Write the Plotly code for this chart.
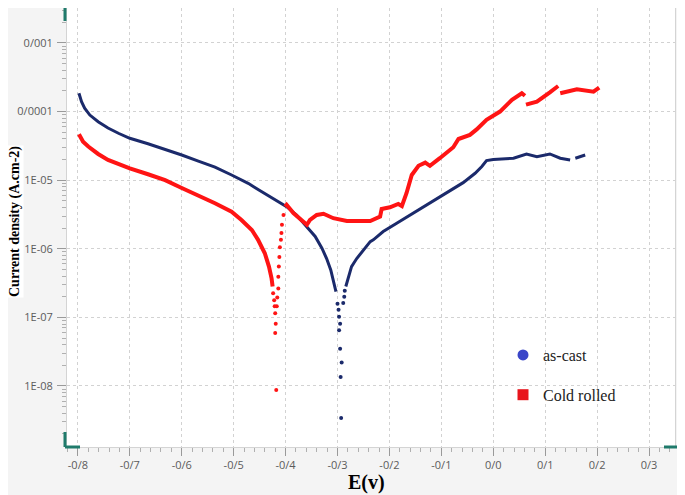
import plotly.graph_objects as go

# as-cast : continuous parts of the curve (None = gap in the record)
ascast_e = [-0.798, -0.793, -0.787, -0.777, -0.761, -0.742, -0.722, -0.700, -0.665, -0.632,
            -0.600, -0.568, -0.536, -0.504, -0.472, -0.449, -0.424, -0.398, -0.379, -0.359,
            -0.343, -0.330, -0.321, -0.313, -0.307, -0.303, None,
            -0.284, -0.279, -0.273, -0.263, -0.253, -0.237, -0.231, -0.212, -0.186, -0.154,
            -0.122, -0.090, -0.058, -0.035, -0.022, -0.013, 0.000, 0.039, 0.064, 0.084,
            0.109, 0.129, 0.148, None, 0.158, 0.177]
ascast_i = [1.85e-4, 1.39e-4, 1.12e-4, 8.9e-5, 7.1e-5, 5.75e-5, 4.83e-5, 4.08e-5, 3.4e-5, 2.82e-5,
            2.33e-5, 1.9e-5, 1.55e-5, 1.19e-5, 9.0e-6, 7.0e-6, 5.45e-6, 4.11e-6, 3.11e-6, 2.10e-6,
            1.51e-6, 1.02e-6, 7.2e-7, 4.9e-7, 3.3e-7, 2.37e-7, None,
            2.82e-7, 3.9e-7, 5.5e-7, 7.2e-7, 9.1e-7, 1.27e-6, 1.35e-6, 1.78e-6, 2.36e-6, 3.3e-6,
            4.6e-6, 6.6e-6, 9.2e-6, 1.26e-5, 1.58e-5, 1.93e-5, 2.0e-5, 2.09e-5, 2.4e-5, 2.2e-5,
            2.41e-5, 2.09e-5, 1.97e-5, None, 2.09e-5, 2.33e-5]
# as-cast : isolated points around Ecorr
ascast_dot_e = [-0.300, -0.298, -0.297, -0.295, -0.297, -0.295, -0.292, -0.294, -0.293,
                -0.289, -0.287, -0.286]
ascast_dot_i = [1.58e-7, 1.29e-7, 1.02e-7, 8.1e-8, 6.5e-8, 3.5e-8, 2.2e-8, 1.35e-8, 3.4e-9,
                1.62e-7, 2.0e-7, 2.45e-7]

# cold rolled : continuous parts
rolled_e = [-0.798, -0.790, -0.780, -0.761, -0.742, -0.722, -0.700, -0.665, -0.632, -0.600,
            -0.568, -0.536, -0.504, -0.485, -0.465, -0.453, -0.440, -0.432, -0.427, -0.425, None,
            -0.401, -0.398, -0.385, -0.372, -0.359, -0.353, -0.340, -0.327, -0.308, -0.282,
            -0.257, -0.237, -0.218, -0.215, -0.199, -0.183, -0.176, -0.167, -0.157, -0.144,
            -0.131, -0.122, -0.103, -0.090, -0.077, -0.067, -0.045, -0.032, -0.013, 0.013,
            0.036, 0.055, 0.061, None, 0.063, 0.084, 0.109, 0.125, None, 0.129, 0.161, 0.193, 0.204]
rolled_i = [4.68e-5, 3.63e-5, 3.09e-5, 2.41e-5, 1.97e-5, 1.72e-5, 1.49e-5, 1.22e-5, 1.0e-5, 7.7e-6,
            6.0e-6, 4.6e-6, 3.47e-6, 2.63e-6, 1.88e-6, 1.35e-6, 8.6e-7, 5.5e-7, 3.7e-7, 2.82e-7, None,
            4.11e-6, 4.37e-6, 3.31e-6, 2.69e-6, 2.24e-6, 2.63e-6, 3.11e-6, 3.24e-6, 2.79e-6, 2.54e-6,
            2.57e-6, 2.54e-6, 2.95e-6, 3.8e-6, 4.03e-6, 4.5e-6, 4.2e-6, 6.5e-6, 1.19e-5, 1.62e-5,
            1.8e-5, 1.62e-5, 2.09e-5, 2.51e-5, 3.02e-5, 3.98e-5, 4.57e-5, 5.5e-5, 7.6e-5, 1.0e-4,
            1.48e-4, 1.85e-4, 1.70e-4, None, 1.26e-4, 1.40e-4, 1.91e-4, 2.36e-4, None, 1.85e-4, 2.11e-4, 1.95e-4, 2.24e-4]
# cold rolled : isolated points around Ecorr
rolled_dot_e = [-0.424, -0.422, -0.421, -0.420, -0.419, -0.420, -0.418,
                -0.417, -0.416, -0.414, -0.414, -0.413, -0.412, -0.411, -0.409, -0.408, -0.407, -0.404]
rolled_dot_i = [2.24e-7, 1.78e-7, 1.45e-7, 1.15e-7, 8.1e-8, 5.9e-8, 8.7e-9,
                1.45e-7, 1.95e-7, 2.63e-7, 3.9e-7, 5.5e-7, 7.6e-7, 1.05e-6, 1.35e-6, 1.7e-6, 2.24e-6, 3.1e-6]

x_ticks = [-0.8, -0.7, -0.6, -0.5, -0.4, -0.3, -0.2, -0.1, 0.0, 0.1, 0.2, 0.3]
x_labels = ['-0/8', '-0/7', '-0/6', '-0/5', '-0/4', '-0/3', '-0/2', '-0/1', '0/0', '0/1', '0/2', '0/3']
y_ticks = [1e-8, 1e-7, 1e-6, 1e-5, 1e-4, 1e-3]
y_labels = ['1E-08', '1E-07', '1E-06', '1E-05', '0/0001', '0/001']

# page body has an 8px margin, so the figure is drawn 8px in from the window corner
OFF = 8
W, H = 685 - OFF, 495 - OFF
PL, PR, PT, PB = 67, 675, 8, 447          # wanted plot box, window pixels
ML, MR, MT, MB = PL - OFF, 685 - PR, PT - OFF, 495 - PB
NAVY = '#1b2a6b'
RED = '#ff1414'
TEAL = '#1f7a6b'
GRID = '#d2d2d2'


def px(x):
    return (x - PL) / (PR - PL)


def py(y):
    return (PB - y) / (PB - PT)


fig = go.Figure()

fig.add_trace(go.Scatter(x=ascast_e, y=ascast_i, mode='lines',
                         line=dict(color=NAVY, width=3), showlegend=False))
fig.add_trace(go.Scatter(x=ascast_dot_e, y=ascast_dot_i, mode='markers',
                         marker=dict(color=NAVY, size=4), showlegend=False))
fig.add_trace(go.Scatter(x=rolled_e, y=rolled_i, mode='lines',
                         line=dict(color=RED, width=4), showlegend=False))
fig.add_trace(go.Scatter(x=rolled_dot_e, y=rolled_dot_i, mode='markers',
                         marker=dict(color=RED, size=4), showlegend=False))

# legend-only entries
fig.add_trace(go.Scatter(x=[None], y=[None], mode='markers', name='as-cast', legendgroup='a',
                         marker=dict(color='#3a46c8', size=11, symbol='circle')))
fig.add_trace(go.Scatter(x=[None], y=[None], mode='markers', name='Cold rolled', legendgroup='b',
                         marker=dict(color='#e8141c', size=11, symbol='square')))

fig.update_xaxes(
    range=[-0.821, 0.35],
    tickmode='array', tickvals=x_ticks, ticktext=x_labels,
    ticks='outside', ticklen=8, tickcolor='#9a9a9a',
    tickfont=dict(family='Open Sans', size=11, color='#5b5b5b'),
    minor=dict(dtick=0.02, ticks='outside', ticklen=4, tickcolor='#b0b0b0', showgrid=False),
    showline=True, linecolor='#d4d4d4', mirror=True,
    showgrid=True, gridcolor=GRID, griddash='dot', gridwidth=1,
    zeroline=False, automargin=False,
)
fig.update_yaxes(
    type='log', range=[-8.89, -2.49],
    tickmode='array', tickvals=y_ticks, ticktext=y_labels,
    ticks='outside', ticklen=9, tickcolor='#9a9a9a', ticklabelstandoff=2,
    tickfont=dict(family='Open Sans', size=11, color='#5b5b5b'),
    minor=dict(dtick='D1', ticks='outside', ticklen=4, tickcolor='#b0b0b0', showgrid=False),
    showline=True, linecolor='#d4d4d4', mirror=True,
    showgrid=True, gridcolor=GRID, griddash='dot', gridwidth=1,
    zeroline=False, automargin=False,
)

teal = dict(color=TEAL, width=3)
shapes = [
    dict(type='line', xref='paper', yref='paper', x0=px(65), x1=px(65), y0=py(8), y1=py(21), line=teal),
    dict(type='line', xref='paper', yref='paper', x0=px(65), x1=px(65), y0=py(432), y1=py(447), line=teal),
    dict(type='line', xref='paper', yref='paper', x0=px(65), x1=px(80), y0=py(447), y1=py(447), line=teal),
    dict(type='line', xref='paper', yref='paper', x0=px(664), x1=px(677), y0=py(447), y1=py(447), line=teal),
]

fig.update_layout(
    width=W, height=H,
    margin=dict(l=ML, r=MR, t=MT, b=MB, pad=0),
    paper_bgcolor='#f4f4f4', plot_bgcolor='white',
    shapes=shapes,
    legend=dict(x=px(503), y=py(338), xanchor='left', yanchor='top',
                bgcolor='rgba(0,0,0,0)', tracegroupgap=16,
                font=dict(family='Liberation Serif', size=16, color='#222222')),
    annotations=[
        dict(text='<b>Current density (A.cm-2)</b>', xref='paper', yref='paper',
             x=px(15), y=py(222), xanchor='center', yanchor='middle',
             textangle=-90, showarrow=False, bgcolor='white', borderpad=0,
             font=dict(family='Liberation Serif', size=14, color='black')),
        dict(text='<b>E(v)</b>', xref='paper', yref='paper',
             x=px(366), y=py(483), xanchor='center', yanchor='middle', showarrow=False,
             font=dict(family='Liberation Serif', size=20, color='black')),
    ],
)

fig.write_html("out.html")
